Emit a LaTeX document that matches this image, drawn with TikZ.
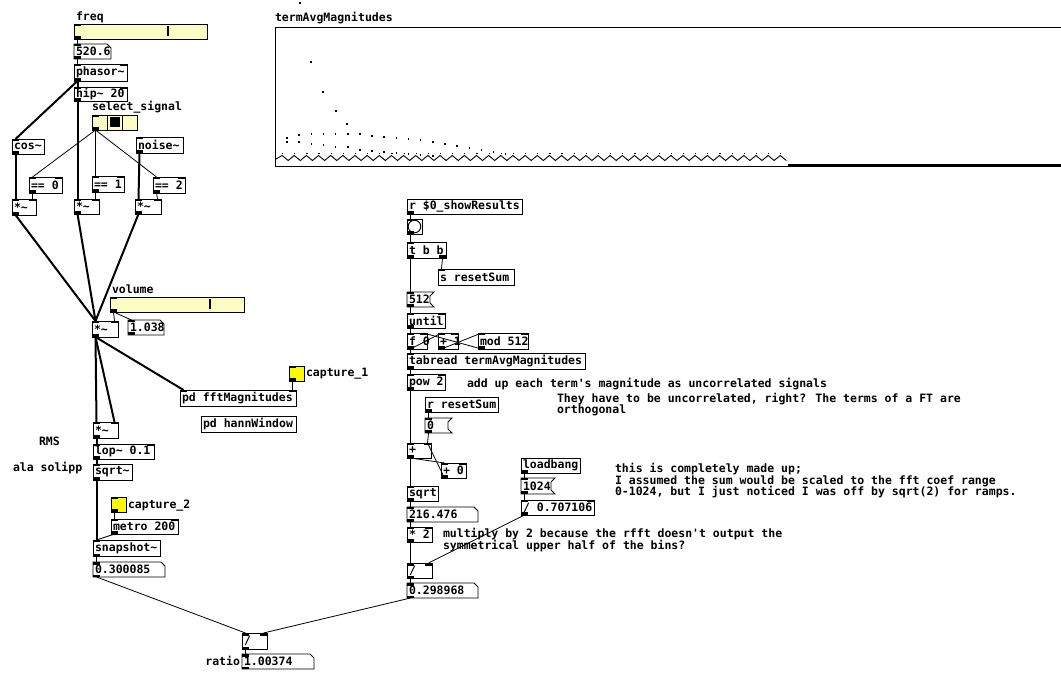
\documentclass[tikz,border=0pt]{standalone}
\usepackage{fontspec}
\newfontfamily\pdmono{DejaVu Sans Mono}
\newcommand\pdfnt{\pdmono\bfseries\fontsize{11.5}{11.5}\selectfont}
\newcommand\tld{\textasciitilde}
\definecolor{sliderbg}{RGB}{252,252,196}
\definecolor{togglebg}{RGB}{250,250,0}
\tikzset{
  pdnode/.style={inner xsep=2pt,inner ysep=0pt,outer sep=0pt,anchor=north west,font=\pdfnt},
  boxline/.style={line width=0.9pt},
  ctl/.style={line width=0.8pt},
  sig/.style={line width=2pt},
  lbl/.style={font=\pdfnt,inner sep=0pt,outer sep=0pt,anchor=base west},
  knob/.style={line width=2.6pt},
  datadot/.style={fill=black},
}
\newcommand\pdbox[7][]{%
  \pgfmathsetmacro\pdw{#5-#3-4}\pgfmathsetmacro\pdh{#6-#4}%
  \node[pdnode,minimum height=\pdh pt,#1] (#2) at (#3,#4) {\makebox[\pdw pt][l]{#7}};}
\newcommand\obj[6]{\pdbox[draw,boxline]{#1}{#2}{#3}{#4}{#5}{#6}}
\newcommand\num[6]{\pdbox{#1}{#2}{#3}{#4}{#5}{#6}%
  \draw[boxline] (#1.north west) -- ([xshift=-4pt]#1.north east) -- ([yshift=-4pt]#1.north east) -- (#1.south east) -- (#1.south west) -- cycle;}
\newcommand\msg[6]{\pdbox{#1}{#2}{#3}{#4}{#5}{#6}%
  \draw[boxline] (#1.north west) -- ([xshift=4pt]#1.north east) -- ([yshift=-4pt]#1.north east) -- ([yshift=4pt]#1.south east) -- ([xshift=4pt]#1.south east) -- (#1.south west) -- cycle;}
\newcommand\iL[1]{\fill (#1.north west) rectangle ([xshift=7pt,yshift=-2.5pt]#1.north west);}
\newcommand\iR[1]{\fill (#1.north east) rectangle ([xshift=-7pt,yshift=-2.5pt]#1.north east);}
\newcommand\oL[1]{\fill (#1.south west) rectangle ([xshift=7pt,yshift=2.5pt]#1.south west);}
\newcommand\oR[1]{\fill (#1.south east) rectangle ([xshift=-7pt,yshift=2.5pt]#1.south east);}
\newcommand\conL[3][ctl]{\draw[#1] ([xshift=3.5pt]#2.south west) -- ([xshift=3.5pt]#3.north west);}
\newcommand\conR[3][ctl]{\draw[#1] ([xshift=3.5pt]#2.south west) -- ([xshift=-3.5pt]#3.north east);}
\begin{document}
\begin{tikzpicture}[x=1pt,y=-1pt]
\useasboundingbox (0,0) rectangle (1061,700);

% ---------- graph ----------
\node[lbl] (graphlbl) at (275,22) {termAvgMagnitudes};
\draw[boxline] (1061,27) -- (275,27) -- (275,166) -- (1061,166);
\draw[line width=2.6pt] (788,165) -- (1061,165);
\fill (299.3,2.3) rectangle (300.8,3.8);
\foreach \x/\y in {311/62,323/92,336/111,347/124}
  {\fill[datadot] (\x-0.75,\y-0.75) rectangle ++(1.5,1.5);}
\foreach \y [count=\i from 0] in {138,135,134,134,134,134,134,136,137,138,139,140,142,144,146,148,150,152,154}
  {\fill[datadot] ({287+12.15*\i-0.75},\y-0.75) rectangle ++(1.5,1.5);}
\foreach \y [count=\i from 0] in {142,142,144,145,147,147,150,151,152,153,154,155,156}
  {\fill[datadot] ({287+12.15*\i-0.75},\y-0.75) rectangle ++(1.5,1.5);}
\foreach \i in {0,...,41}
  {\fill[datadot] ({282+12.15*\i},153) rectangle ++(1.2,1.5);}
\draw[line width=0.9pt] (276,159)
  \foreach \i [evaluate=\i as \xx using {276+6.075*\i}, evaluate=\i as \yy using {155.5+5*mod(\i+1,2)}] in {1,...,84} { -- (\xx,\yy) };

% ---------- left column ----------
\node[lbl] (freqlbl) at (76,20.5) {freq};
\pdbox[draw,boxline,fill=sliderbg]{freq}{74}{24}{207}{39}{}
\draw[knob] ([xshift=94pt,yshift=-2.5pt]freq.north west) -- ([xshift=94pt,yshift=2.5pt]freq.south west);
\num{nfreq}{74}{44}{111}{59}{520.6}
\obj{phasor}{74}{64}{127}{81}{phasor\tld}
\obj{hip}{74}{87}{127}{101}{hip\tld{} 20}
\node[lbl] (sellbl) at (92,111) {select\_signal};
\pdbox[draw,boxline,fill=sliderbg]{radio}{92}{115}{137}{130}{}
\draw[boxline] ([xshift=15pt]radio.north west) -- ([xshift=15pt]radio.south west);
\draw[boxline] ([xshift=30pt]radio.north west) -- ([xshift=30pt]radio.south west);
\fill ([xshift=18pt,yshift=-2.5pt]radio.north west) rectangle ([xshift=27.5pt,yshift=2.5pt]radio.south west);
\obj{cos}{12}{139}{44}{154}{cos\tld}
\obj{noise}{136}{137}{183}{153}{noise\tld}
\obj{eqz}{29}{177}{62}{193}{== 0}
\obj{eqo}{92}{176}{124}{192}{== 1}
\obj{eqt}{153}{177}{185}{193}{== 2}
\obj{mula}{12}{199}{36}{215}{*\tld}
\obj{mulb}{74}{199}{99}{214}{*\tld}
\obj{mulc}{135}{199}{161}{214}{*\tld}
\node[lbl] (vollbl) at (112,293.5) {volume};
\pdbox[draw,boxline,fill=sliderbg]{vol}{110}{297}{244}{312}{}
\draw[knob] ([xshift=100pt,yshift=-2.5pt]vol.north west) -- ([xshift=100pt,yshift=2.5pt]vol.south west);
\obj{mulv}{92}{321}{118}{337}{*\tld}
\num{nvol}{128}{320}{164}{335}{1.038}
\obj{fftmag}{180}{390}{296}{406}{pd fftMagnitudes}
\pdbox[draw,boxline,fill=togglebg]{capa}{289}{366}{304}{381}{}
\node[lbl] (capalbl) at (306,377) {capture\_1};
\obj{hann}{201}{416}{296}{432}{pd hannWindow}
\obj{mulr}{93}{422}{118}{438}{*\tld}
\node[lbl] (rmslbl) at (39,445.5) {RMS};
\obj{lop}{93}{444}{154}{459}{lop\tld{} 0.1}
\node[lbl] (alalbl) at (13,472) {ala solipp};
\obj{sqrts}{93}{464}{132}{480}{sqrt\tld}
\pdbox[draw,boxline,fill=togglebg]{capb}{111}{497}{126}{512}{}
\node[lbl] (capblbl) at (128,508) {capture\_2};
\obj{metro}{111}{519}{178}{534}{metro 200}
\obj{snap}{93}{540}{160}{556}{snapshot\tld}
\num{nrms}{93}{562}{165}{577}{0.300085}
\obj{divr}{242}{633}{267}{649}{/}
\node[lbl,anchor=base east] (ratiolbl) at (240,665.5) {ratio};
\num{nratio}{242}{654}{314}{669}{1.00374}

% ---------- right column ----------
\obj{rshow}{407}{199}{522}{214}{r \$0\_showResults}
\pdbox[draw,boxline]{bng}{407}{219}{422}{234}{}
\draw[boxline] (bng.center) circle (6.3);
\obj{tbb}{407}{242}{446}{258}{t b b}
\obj{sreset}{438}{269}{514}{285}{s resetSum}
\msg{mfive}{407}{292}{430}{307}{512}
\obj{until}{407}{313}{445}{328}{until}
\obj{fz}{407}{333}{427}{349}{f 0}
\obj{pone}{438}{333}{458}{349}{+ 1}
\obj{modb}{478}{333}{528}{349}{mod 512}
\obj{tabr}{407}{353}{585}{369}{tabread termAvgMagnitudes}
\obj{pow}{407}{374}{445}{390}{pow 2}
\obj{rreset}{425}{397}{498}{412}{r resetSum}
\msg{mzero}{425}{418}{448}{433}{0}
\obj{plus}{407}{443}{431}{458}{+}
\obj{pzero}{441}{463}{466}{478}{+ 0}
\obj{sqrtb}{407}{486}{438}{501}{sqrt}
\num{nsum}{407}{507}{478}{522}{216.476}
\obj{mtwo}{407}{527}{432}{542}{* 2}
\obj{divl}{407}{563}{432}{578}{/}
\num{nfft}{407}{583}{478}{598}{0.298968}
\obj{lb}{521}{458}{580}{473}{loadbang}
\msg{mten}{521}{478}{551}{494}{1024}
\obj{dsq}{521}{500}{594}{515}{/ 0.707106}

% ---------- comments ----------
\node[lbl] (ca) at (467,388) {add up each term\textquotesingle s magnitude as uncorrelated signals};
\node[lbl] (cb1) at (557,403) {They have to be uncorrelated, right? The terms of a FT are};
\node[lbl] (cb2) at (557,414) {orthogonal};
\node[lbl] (cc1) at (615,473) {this is completely made up;};
\node[lbl] (cc2) at (615,484.5) {I assumed the sum would be scaled to the fft coef range};
\node[lbl] (cc3) at (615,496) {0-1024, but I just noticed I was off by sqrt(2) for ramps.};
\node[lbl] (cd1) at (443,538) {multiply by 2 because the rfft doesn\textquotesingle t output the};
\node[lbl] (cd2) at (443,549) {symmetrical upper half of the bins?};

% ---------- inlets / outlets ----------
\foreach \n in {freq,nfreq,radio,cos,noise,vol,nvol,capa,sqrts,capb,snap,nrms,nratio,bng,mfive,tabr,mzero,sqrtb,nsum,nfft,mten}
  {\iL{\n}\oL{\n}}
\foreach \n in {phasor,hip,eqz,eqo,eqt,mula,mulb,mulc,mulv,mulr,lop,metro,divr,until,fz,pone,modb,pow,plus,pzero,mtwo,divl,dsq}
  {\iL{\n}\iR{\n}\oL{\n}}
\iL{fftmag}\iR{fftmag}
\iL{tbb}\oL{tbb}\oR{tbb}
\iL{sreset}
\oL{rshow}\oL{rreset}\oL{lb}

% ---------- connections: left ----------
\conL{freq}{nfreq}
\conL{nfreq}{phasor}
\conL[sig]{phasor}{hip}
\conL[sig]{phasor}{cos}
\conL[sig]{hip}{mulb}
\conL[sig]{cos}{mula}
\conL[sig]{noise}{mulc}
\conL{radio}{eqz}
\conL{radio}{eqo}
\conL{radio}{eqt}
\conR{eqz}{mula}
\conR{eqo}{mulb}
\conR{eqt}{mulc}
\conL[sig]{mula}{mulv}
\conL[sig]{mulb}{mulv}
\conL[sig]{mulc}{mulv}
\conR{vol}{mulv}
\conL{vol}{nvol}
\conL[sig]{mulv}{mulr}
\conR[sig]{mulv}{mulr}
\conL[sig]{mulv}{fftmag}
\conR{capa}{fftmag}
\conL[sig]{mulr}{lop}
\conL[sig]{lop}{sqrts}
\conL[sig]{sqrts}{snap}
\conL{capb}{metro}
\conL{metro}{snap}
\conL{snap}{nrms}
\conL{nrms}{divr}
\conR{nfft}{divr}
\conL{divr}{nratio}

% ---------- connections: right ----------
\conL{rshow}{bng}
\conL{bng}{tbb}
\draw[ctl] ([xshift=-3.5pt]tbb.south east) -- ([xshift=3.5pt]sreset.north west);
\conL{tbb}{mfive}
\conL{mfive}{until}
\conL{until}{fz}
\conL{fz}{pone}
\conL{pone}{modb}
\conR{modb}{fz}
\conL{fz}{tabr}
\conL{tabr}{pow}
\conL{pow}{plus}
\conL{rreset}{mzero}
\conR{mzero}{plus}
\conL{plus}{pzero}
\conR{pzero}{plus}
\conL{plus}{sqrtb}
\conL{sqrtb}{nsum}
\conL{nsum}{mtwo}
\conL{mtwo}{divl}
\conL{lb}{mten}
\conL{mten}{dsq}
\conR{dsq}{divl}
\conL{divl}{nfft}
\end{tikzpicture}
\end{document}
